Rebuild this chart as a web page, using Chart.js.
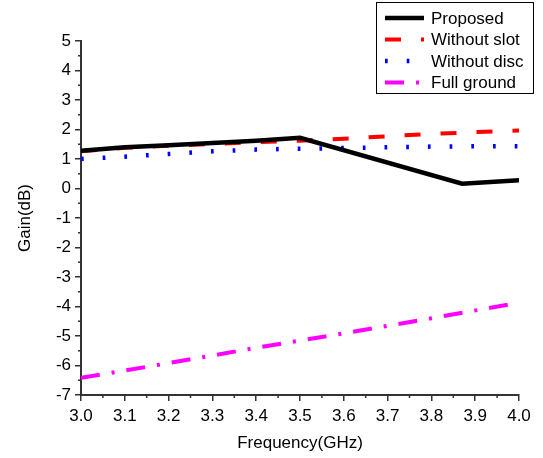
<!DOCTYPE html>
<html>
<head>
<meta charset="utf-8">
<script src="https://cdn.jsdelivr.net/npm/chart.js@4.4.0/dist/chart.umd.min.js"></script>
<style>
  html, body { margin: 0; padding: 0; background: #fff; }
  #wrap { width: 543px; height: 458px; }
</style>
</head>
<body>
<div id="wrap"><canvas id="chart" width="543" height="458"></canvas></div>
<script>
// values
const seriesNames = ['Proposed', 'Without slot', 'Without disc', 'Full ground'];

const proposedFreq = [3.0, 3.1, 3.2, 3.3, 3.4, 3.5, 3.87, 4.0];
const proposedGain = [1.28, 1.40, 1.47, 1.54, 1.62, 1.72, 0.16, 0.28];

const slotFreq = [3.0, 3.1, 3.2, 3.3, 3.4, 3.5, 3.6, 3.7, 3.8, 3.9, 4.0];
const slotGain = [1.26, 1.38, 1.45, 1.51, 1.57, 1.62, 1.69, 1.77, 1.85, 1.91, 1.97];

const discFreq = [3.0, 3.1, 3.2, 3.3, 3.4, 3.5, 3.6, 3.7, 3.8, 3.9, 4.0];
const discGain = [1.00, 1.08, 1.17, 1.26, 1.32, 1.35, 1.37, 1.40, 1.42, 1.43, 1.43];

const groundFreq = [3.0, 3.2, 3.4, 3.6, 3.8, 4.0];
const groundGain = [-6.42, -5.92, -5.40, -4.91, -4.40, -3.87];

const xTicks = [3.0, 3.1, 3.2, 3.3, 3.4, 3.5, 3.6, 3.7, 3.8, 3.9, 4.0];
const yTicks = [-7, -6, -5, -4, -3, -2, -1, 0, 1, 2, 3, 4, 5];

const FONT = "'Liberation Sans', Arial, sans-serif";
const AXIS = '#333';

function toPoints(xs, ys) {
  return xs.map((x, i) => ({ x: x, y: ys[i] }));
}

const styles = [
  { color: '#000000', width: 4.5, dash: [] },
  { color: '#ff0000', width: 4, dash: [16, 20] },
  { color: '#0000ff', width: 4.5, dash: [2.7, 19] },
  { color: '#ff00ff', width: 4, dash: [19, 12, 3, 12] }
];

const allData = [
  toPoints(proposedFreq, proposedGain),
  toPoints(slotFreq, slotGain),
  toPoints(discFreq, discGain),
  toPoints(groundFreq, groundGain)
];

const datasets = allData.map((d, i) => ({
  label: seriesNames[i],
  data: d,
  borderColor: styles[i].color,
  borderWidth: styles[i].width,
  borderDash: styles[i].dash,
  pointRadius: 0,
  fill: false,
  tension: 0
}));

// minor ticks (shorter) drawn through the scales, plus the boxed legend
const extras = {
  id: 'extras',
  afterDraw(chart) {
    const ctx = chart.ctx;
    const xs = chart.scales.x, ys = chart.scales.y;
    ctx.save();
    ctx.strokeStyle = AXIS;
    ctx.lineWidth = 1.5;
    ctx.beginPath();
    for (let k = 0; k < 10; k++) {
      const px = xs.getPixelForValue(3.05 + k * 0.1);
      ctx.moveTo(px, xs.top);
      ctx.lineTo(px, xs.top + 3);
    }
    for (let k = 0; k < 12; k++) {
      const py = ys.getPixelForValue(-6.5 + k);
      ctx.moveTo(ys.right, py);
      ctx.lineTo(ys.right - 3, py);
    }
    ctx.stroke();

    // legend
    const bx = 376.5, by = 2.5, bw = 157, bh = 91;
    ctx.fillStyle = '#fff';
    ctx.fillRect(bx, by, bw, bh);
    ctx.strokeStyle = '#000';
    ctx.lineWidth = 1;
    ctx.strokeRect(bx, by, bw, bh);
    ctx.font = '17px ' + FONT;
    ctx.textBaseline = 'middle';
    ctx.textAlign = 'left';
    chart.data.datasets.forEach((ds, i) => {
      const y = 18 + i * 21.5;
      ctx.strokeStyle = ds.borderColor;
      ctx.lineWidth = ds.borderWidth;
      ctx.setLineDash(ds.borderDash);
      ctx.beginPath();
      ctx.moveTo(385, y);
      ctx.lineTo(424, y);
      ctx.stroke();
      ctx.setLineDash([]);
      ctx.fillStyle = '#000';
      ctx.fillText(ds.label, 431, y + 1);
    });
    ctx.restore();
  }
};

new Chart(document.getElementById('chart'), {
  type: 'line',
  data: { datasets: datasets },
  options: {
    responsive: false,
    animation: false,
    events: [],
    layout: { padding: { left: 0, top: 41, right: 24, bottom: 0 } },
    plugins: { legend: { display: false }, tooltip: { enabled: false } },
    scales: {
      x: {
        type: 'linear',
        min: 3.0,
        max: 4.0,
        afterFit: s => { s.height = 63; },
        afterBuildTicks: s => { s.ticks = xTicks.map(v => ({ value: v })); },
        ticks: {
          autoSkip: false,
          maxRotation: 0,
          padding: 5,
          color: '#000',
          font: { family: FONT, size: 17 },
          callback: v => v.toFixed(1)
        },
        grid: {
          drawOnChartArea: false,
          drawTicks: true,
          tickLength: 6,
          lineWidth: 1.5,
          color: AXIS
        },
        border: { display: true, color: AXIS, width: 2 },
        title: {
          display: true,
          text: 'Frequency(GHz)',
          color: '#000',
          font: { family: FONT, size: 17 },
          padding: { top: 0, bottom: 4 }
        }
      },
      y: {
        type: 'linear',
        min: -7,
        max: 5,
        afterFit: s => { s.width = 81; },
        afterBuildTicks: s => { s.ticks = yTicks.map(v => ({ value: v })); },
        ticks: {
          padding: 4,
          color: '#000',
          font: { family: FONT, size: 17 },
          callback: v => String(v)
        },
        grid: {
          drawOnChartArea: false,
          drawTicks: true,
          tickLength: 6,
          lineWidth: 1.5,
          color: AXIS
        },
        border: { display: true, color: AXIS, width: 2 },
        title: {
          display: true,
          text: 'Gain(dB)',
          color: '#000',
          font: { family: FONT, size: 17 },
          padding: { top: 15, bottom: 0 }
        }
      }
    }
  },
  plugins: [extras]
});
</script>
</body>
</html>
